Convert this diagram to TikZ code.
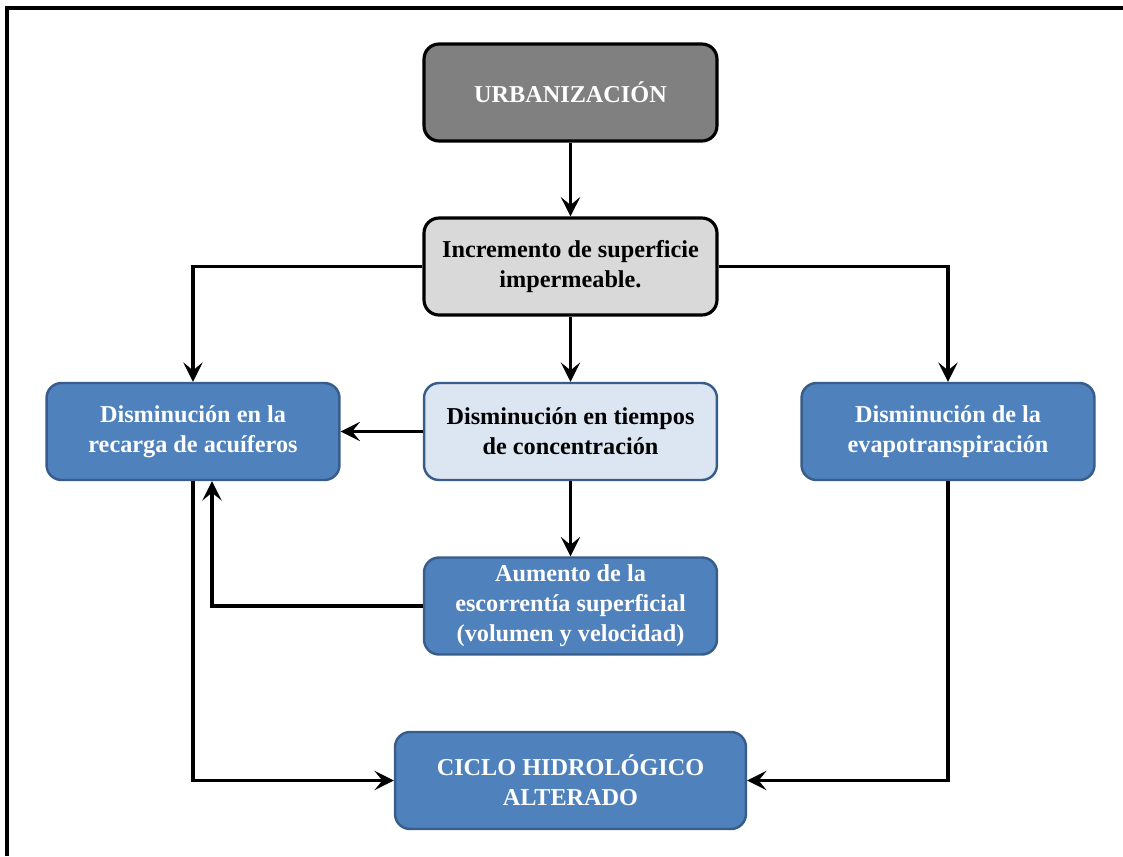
\documentclass[tikz,border=0pt]{standalone}
\usepackage{fontspec}
\setmainfont{Liberation Serif}
\usetikzlibrary{arrows.meta}
\definecolor{boxblue}{HTML}{4F81BD}
\definecolor{edgeblue}{HTML}{385D8A}
\definecolor{paleblue}{HTML}{DCE6F2}
\definecolor{urbgrey}{HTML}{808080}
\definecolor{incgrey}{HTML}{D9D9D9}

\begin{document}
\begin{tikzpicture}[x=0.02cm,y=-0.02cm,
	box/.style={rounded corners=0.3cm, minimum width=5.86cm, minimum height=1.94cm, align=center, inner sep=2pt,
		font=\fontsize{13.8}{17}\selectfont\bfseries},
	darkbox/.style={box, fill=urbgrey, draw=black, line width=1.8pt, text=white},
	greybox/.style={box, fill=incgrey, draw=black, line width=1.8pt},
	bluebox/.style={box, fill=boxblue, draw=edgeblue, line width=1.4pt, text=white},
	palebox/.style={box, fill=paleblue, draw=edgeblue, line width=1.4pt},
	conn/.style={line width=1.8pt, -{Stealth[length=11pt,width=11pt,inset=4.5pt]}}]
	\useasboundingbox (0,0) rectangle (1123,856);
	\draw[line width=2pt] (7,856) -- (7,8) -- (1123,8);
	% boxes
	\node[darkbox] (urb) at (570.5,92.5) {URBANIZACIÓN};
	\node[greybox] (inc) at (570.5,266.5) {Incremento de superficie\\impermeable.};
	\node[bluebox] (rec) at (193,431.5) {Disminución en la\\recarga de acuíferos};
	\node[palebox] (tc) at (570.5,431.5) {Disminución en tiempos\\de concentración};
	\node[bluebox] (evt) at (948,431.5) {Disminución de la\\evapotranspiración};
	\node[bluebox] (esc) at (570.5,606) {Aumento de la\\escorrentía superficial\\(volumen y velocidad)};
	\node[bluebox, minimum width=7.02cm] (cic) at (570.5,780.5) {CICLO HIDROLÓGICO\\ALTERADO};
	% connectors
	\draw[conn] (urb) -- (inc);
	\draw[conn] (inc.west) -| (rec.north);
	\draw[conn] (inc.east) -| (evt.north);
	\draw[conn] (inc) -- (tc);
	\draw[conn] (tc) -- (rec);
	\draw[conn] (tc) -- (esc);
	\draw[conn] (esc.west) -| ([xshift=0.38cm]rec.south);
	\draw[conn] (rec.south) |- (cic.west);
	\draw[conn] (evt.south) |- (cic.east);
\end{tikzpicture}
\end{document}
